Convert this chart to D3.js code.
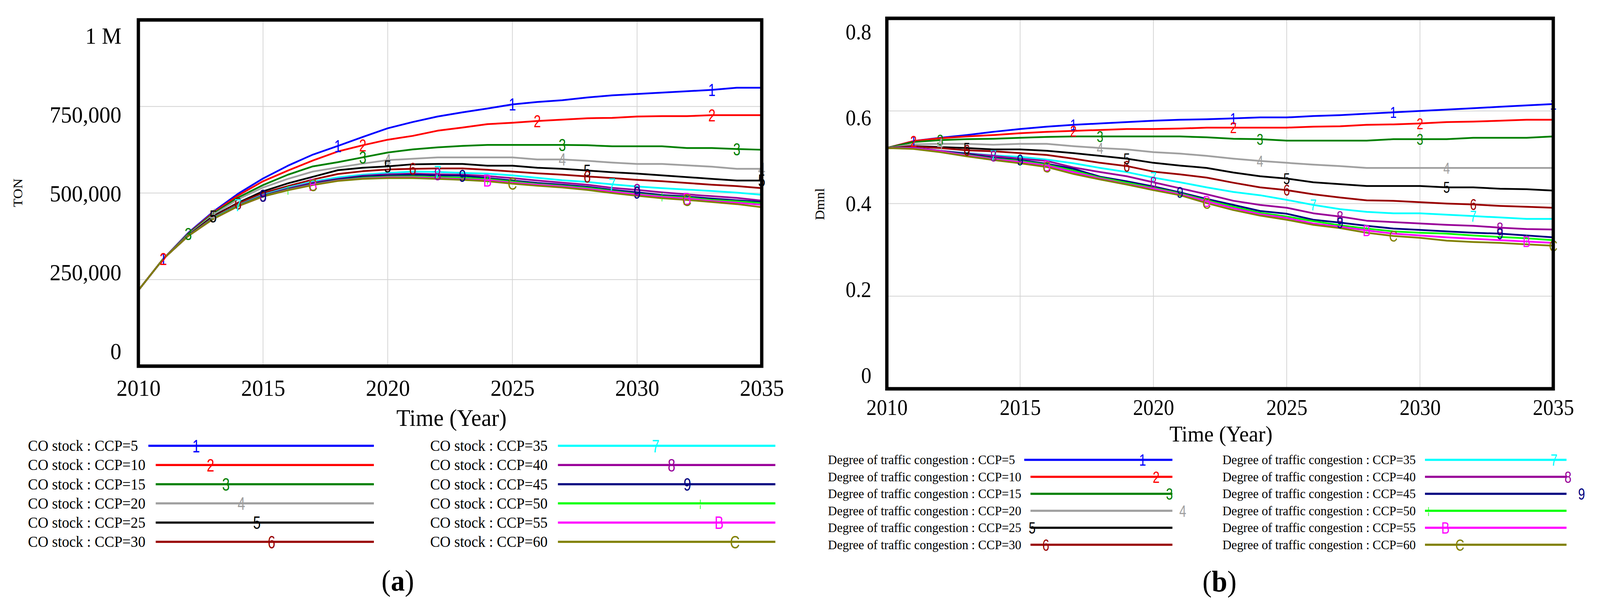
<!DOCTYPE html>
<html><head><meta charset="utf-8">
<script src="https://cdn.jsdelivr.net/npm/d3@7"></script>
<style>html,body{margin:0;padding:0;background:#fff;overflow:hidden;width:100%;height:100%;}svg{display:block;width:100vw;height:100vh;}</style>
</head><body>
<script>
// ---------------- DATA ----------------
const years = [2010,2011,2012,2013,2014,2015,2016,2017,2018,2019,2020,2021,2022,2023,2024,2025,2026,2027,2028,2029,2030,2031,2032,2033,2034,2035];
const xTickYears = [2010,2015,2020,2025,2030,2035];
const ccp = [5,10,15,20,25,30,35,40,45,50,55,60];
const markerGlyphs = ["1","2","3","4","5","6","7","8","9","¦","B","C"];
const seriesColors = ["#0000ff","#ff0000","#008000","#a0a0a0","#000000","#990000","#00ffff","#990099","#000080","#00ff00","#ff00ff","#808000"];

// (a) CO stock, thousand TON
const co1  = [219,310,385,446,498,542,579,611,636,662,687,705,721,733,744,756,763,768,776,782,786,790,794,798,804,804];
const co2  = [219,310,383,443,493,534,565,594,620,638,654,665,680,689,699,703,708,712,716,717,721,722,722,725,725,725];
const co3  = [219,310,382,440,487,523,553,577,589,603,617,626,632,636,639,639,639,639,638,635,635,635,630,630,627,625];
const co4  = [219,310,380,437,482,516,541,562,574,585,595,599,603,603,603,603,597,597,593,588,584,584,580,576,570,570];
const co5  = [219,310,378,433,472,505,528,547,566,573,577,583,584,584,579,579,573,570,565,560,556,551,546,541,536,536];
const co6  = [219,310,377,430,470,500,520,539,555,563,568,570,571,571,567,562,557,553,548,543,538,534,529,524,520,514];
const co7  = [219,310,377,428,465,495,516,533,545,553,558,562,561,558,556,551,544,537,532,525,519,514,510,506,501,495];
const co8  = [219,310,377,427,464,493,513,530,541,550,554,556,554,553,549,543,536,530,524,515,509,502,496,491,486,478];
const co9  = [219,310,376,426,463,492,511,527,539,548,551,553,551,550,543,536,529,524,518,509,502,494,490,484,479,474];
const co10 = [219,310,376,426,463,491,510,525,537,544,547,548,546,544,540,533,526,521,515,506,498,491,487,480,476,471];
const co11 = [219,310,376,425,462,490,509,524,536,542,545,545,543,540,537,530,524,519,512,504,496,489,484,477,472,466];
const co12 = [219,310,376,425,462,490,508,523,535,541,543,543,541,538,534,527,521,516,509,500,492,485,480,474,468,459];
const coMarkerYears = [
  [2011,2018,2025,2033],[2011,2019,2026,2033],[2012,2019,2027,2034],[2013,2020,2027,2035],
  [2013,2020,2028,2035],[2014,2021,2028],[2014,2022,2029],[2015,2022,2030],
  [2015,2023,2030],[2016,2024,2031],[2017,2024,2032],[2017,2025,2032]];
const coTicks = [0,250000,500000,750000,1000000];
const coTickLabels = ["0","250,000","500,000","750,000","1 M"];

// (b) Degree of traffic congestion, Dmnl
const dg1  = [.520,.535,.542,.548,.555,.561,.566,.570,.573,.576,.579,.581,.582,.584,.586,.586,.589,.591,.594,.597,.600,.603,.606,.609,.612,.615];
const dg2  = [.520,.535,.541,.545,.548,.552,.555,.557,.559,.561,.561,.562,.564,.564,.564,.564,.566,.567,.570,.571,.573,.576,.577,.579,.581,.581];
const dg3  = [.520,.533,.537,.539,.540,.542,.544,.545,.545,.545,.545,.545,.543,.540,.539,.536,.536,.536,.536,.539,.539,.539,.542,.542,.542,.545];
const dg4  = [.520,.528,.529,.529,.527,.529,.529,.524,.520,.517,.511,.508,.503,.497,.492,.488,.484,.481,.477,.477,.477,.477,.477,.477,.477,.477];
const dg5  = [.520,.524,.522,.520,.517,.517,.514,.509,.503,.497,.488,.482,.477,.467,.459,.454,.446,.442,.438,.438,.438,.435,.435,.432,.431,.428];
const dg6  = [.520,.523,.520,.515,.513,.509,.505,.497,.488,.481,.469,.463,.456,.445,.435,.429,.420,.413,.407,.406,.403,.400,.398,.395,.393,.391];
const dg7  = [.520,.521,.514,.509,.504,.501,.495,.487,.477,.468,.456,.446,.435,.425,.418,.408,.397,.388,.382,.379,.379,.376,.373,.370,.367,.367];
const dg8  = [.520,.521,.514,.508,.503,.497,.492,.478,.468,.459,.446,.433,.420,.406,.397,.391,.379,.372,.363,.360,.357,.354,.352,.348,.345,.344];
const dg9  = [.520,.519,.513,.507,.499,.494,.486,.475,.458,.448,.437,.424,.410,.397,.384,.378,.365,.359,.352,.346,.343,.340,.337,.335,.331,.327];
const dg10 = [.520,.519,.513,.505,.497,.492,.484,.471,.456,.445,.434,.422,.407,.393,.380,.372,.362,.353,.346,.340,.337,.335,.331,.328,.325,.321];
const dg11 = [.520,.519,.513,.504,.496,.490,.482,.468,.454,.442,.432,.420,.405,.390,.377,.369,.357,.350,.342,.335,.331,.327,.324,.321,.318,.315];
const dg12 = [.520,.518,.511,.502,.494,.487,.479,.464,.452,.441,.429,.418,.401,.386,.374,.365,.354,.347,.337,.330,.326,.320,.317,.315,.312,.309];
const dgMarkerYears = [
  [2011,2017,2023,2029,2035],[2011,2017,2023,2030],[2012,2018,2024,2030],[2012,2018,2024,2031],
  [2013,2019,2025,2031],[2013,2019,2025,2032],[2014,2020,2026,2032],[2014,2020,2027,2033],
  [2015,2021,2027,2033],[2015,2021,2028,2034],[2016,2022,2028,2034],[2016,2022,2029,2035]];
const dgTicks = [0,0.2,0.4,0.6,0.8];
const dgTickLabels = ["0","0.2","0.4","0.6","0.8"];

const coSeries = [co1,co2,co3,co4,co5,co6,co7,co8,co9,co10,co11,co12].map(a=>a.map(v=>v*1000));
const dgSeries = [dg1,dg2,dg3,dg4,dg5,dg6,dg7,dg8,dg9,dg10,dg11,dg12];

// ---------------- DRAW ----------------
const W = 4348, H = 1555;
const SERIF = "'Liberation Serif','Times New Roman',serif";
const SANS = "'Liberation Sans',Arial,sans-serif";
const svg = d3.select("body").append("svg")
  .attr("viewBox", `0 0 ${W} ${H}`).attr("preserveAspectRatio", "none");

function drawChart(cfg) {
  const g = svg.append("g");
  const x = d3.scaleLinear().domain([2010, 2035]).range([cfg.x0, cfg.x1]);
  const y = d3.scaleLinear().domain(cfg.domain).range([cfg.y1, cfg.y0]);
  const yLab = d3.scaleLinear().domain(cfg.domain).range(cfg.labRange);

  // gridlines
  g.append("g").selectAll("line").data(xTickYears.slice(1, -1)).join("line")
    .attr("x1", d => x(d)).attr("x2", d => x(d)).attr("y1", cfg.y0).attr("y2", cfg.y1)
    .attr("stroke", "#d3d3d3").attr("stroke-width", 2);
  g.append("g").selectAll("line").data(cfg.ticks.slice(1, -1)).join("line")
    .attr("x1", cfg.x0).attr("x2", cfg.x1).attr("y1", d => y(d)).attr("y2", d => y(d))
    .attr("stroke", "#d3d3d3").attr("stroke-width", 2);

  // lines
  const line = d3.line().x((d, i) => x(years[i])).y(d => y(d));
  cfg.series.forEach((s, k) => {
    g.append("path").datum(s).attr("d", line).attr("fill", "none")
      .attr("stroke", seriesColors[k]).attr("stroke-width", 4.5).attr("stroke-linejoin", "round");
  });
  // markers
  cfg.series.forEach((s, k) => {
    cfg.markers[k].forEach(yr => {
      const v = s[years.indexOf(yr)];
      const fs = k === 9 ? cfg.mfs * 0.55 : cfg.mfs;
      g.append("text").attr("x", x(yr)).attr("y", y(v) + 0.36 * fs)
        .attr("text-anchor", "middle").attr("font-family", SANS).attr("font-size", fs)
        .attr("fill", seriesColors[k])
        .attr("transform", `translate(${x(yr)},0) scale(0.8,1) translate(${-x(yr)},0)`)
        .text(markerGlyphs[k]);
    });
  });

  // frame
  g.append("rect").attr("x", cfg.x0).attr("y", cfg.y0).attr("width", cfg.x1 - cfg.x0)
    .attr("height", cfg.y1 - cfg.y0).attr("fill", "none").attr("stroke", "#000").attr("stroke-width", 9);

  // y axis labels
  const ya = g.append("g").attr("transform", `translate(${cfg.yLabX},0)`)
    .call(d3.axisLeft(yLab).tickValues(cfg.ticks).tickFormat((d, i) => cfg.tickLabels[i]).tickSize(0).tickPadding(0));
  ya.select(".domain").remove();
  ya.selectAll("text").attr("font-family", SERIF).attr("font-size", cfg.tfs).attr("fill", "#000").attr("dy", "0.34em");

  // x axis labels
  const xa = g.append("g").attr("transform", `translate(0,${cfg.xLabBase})`)
    .call(d3.axisBottom(x).tickValues(xTickYears).tickFormat(d3.format("d")).tickSize(0).tickPadding(0));
  xa.select(".domain").remove();
  xa.selectAll("text").attr("font-family", SERIF).attr("font-size", cfg.tfs).attr("fill", "#000").attr("y", 0).attr("dy", 0);

  // titles
  g.append("text").attr("transform", `translate(${cfg.yTitle[0]},${cfg.yTitle[1]}) rotate(-90)`)
    .attr("text-anchor", "middle").attr("dy", "0.35em").attr("font-family", SERIF).attr("font-size", 36)
    .text(cfg.yTitleText);
  g.append("text").attr("x", cfg.xTitle[0]).attr("y", cfg.xTitle[1]).attr("text-anchor", "middle")
    .attr("font-family", SERIF).attr("font-size", cfg.xTitleSize).text("Time (Year)");

  // legend
  const L = cfg.legend;
  cfg.series.forEach((s, k) => {
    const col = k < 6 ? 0 : 1, row = k % 6;
    const ry = L.y0 + row * L.dy;
    const t = g.append("text").attr("x", L.tx[col]).attr("y", ry + 0.33 * L.fs)
      .attr("font-family", SERIF).attr("font-size", L.fs).attr("fill", "#000")
      .text(`${cfg.legendPrefix} : CCP=${ccp[k]}`);
    const tw = t.node().getComputedTextLength();
    g.append("line").attr("x1", L.tx[col] + tw + L.gap).attr("x2", L.lx2[col]).attr("y1", ry).attr("y2", ry)
      .attr("stroke", seriesColors[k]).attr("stroke-width", 5.5);
    const fs = k === 9 ? L.mfs * 0.55 : L.mfs;
    const mx = L.mx[k];
    g.append("text").attr("x", mx).attr("y", ry + 0.36 * fs).attr("text-anchor", "middle")
      .attr("font-family", SANS).attr("font-size", fs).attr("fill", seriesColors[k])
      .attr("transform", `translate(${mx},0) scale(0.8,1) translate(${-mx},0)`)
      .text(markerGlyphs[k]);
  });

  // caption
  const cap = g.append("text").attr("x", cfg.caption[0]).attr("y", cfg.caption[1]).attr("text-anchor", "middle")
    .attr("font-family", SERIF).attr("font-size", 76).attr("fill", "#000");
  cap.append("tspan").text("(");
  cap.append("tspan").attr("font-weight", "bold").text(cfg.captionLetter);
  cap.append("tspan").text(")");
}

drawChart({
  series: coSeries, markers: coMarkerYears, domain: [0, 1000000], ticks: coTicks, tickLabels: coTickLabels,
  x0: 376, x1: 2070, y0: 51, y1: 938, labRange: [899, 91], yLabX: 330, xLabBase: 1014, tfs: 60, mfs: 44,
  yTitle: [48, 494], yTitleText: "TON", xTitle: [1227, 1091], xTitleSize: 62,
  legendPrefix: "CO stock",
  legend: { fs: 40, y0: 1142, dy: 49.2, tx: [76, 1169], lx2: [1016, 2107], gap: 28, mfs: 46,
            mx: [533, 572, 614, 656, 698, 738, 1782, 1825, 1868, 1903, 1954, 1997] },
  caption: [1081, 1513], captionLetter: "a"
});

drawChart({
  series: dgSeries, markers: dgMarkerYears, domain: [0, 0.8], ticks: dgTicks, tickLabels: dgTickLabels,
  x0: 2410, x1: 4221, y0: 47, y1: 996, labRange: [961, 81], yLabX: 2368, xLabBase: 1063, tfs: 56, mfs: 40,
  yTitle: [2227, 523], yTitleText: "Dmnl", xTitle: [3318, 1131], xTitleSize: 58,
  legendPrefix: "Degree of traffic congestion",
  legend: { fs: 34, y0: 1178, dy: 43.5, tx: [2250, 3322], lx2: [3186, 4257], gap: 25, mfs: 42,
            mx: [3105, 3142, 3178, 3214, 2805, 2842, 4223, 4261, 4298, 3882, 3928, 3967] },
  caption: [3314, 1515], captionLetter: "b"
});
</script>
</body></html>
